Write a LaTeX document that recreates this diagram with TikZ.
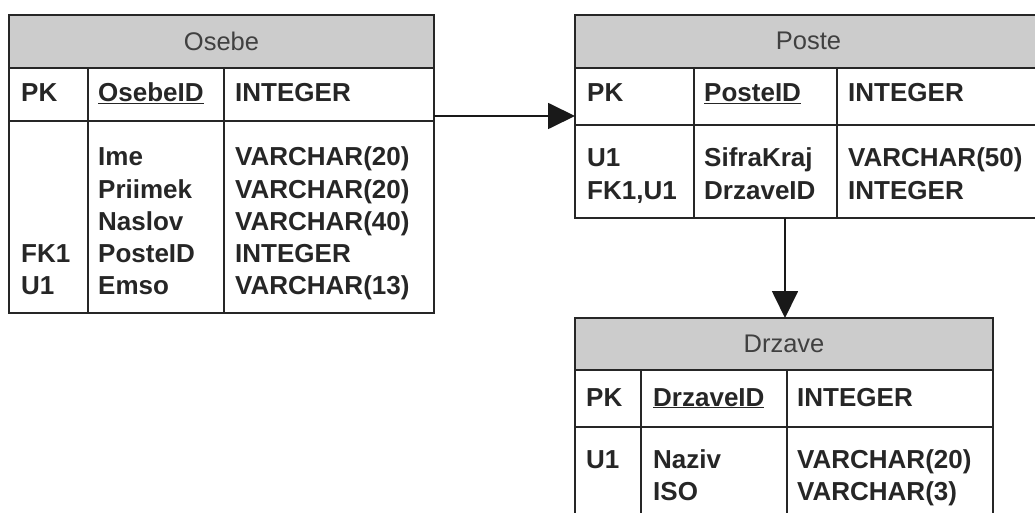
\documentclass[tikz,border=0pt]{standalone}
\usepackage{fontspec}
\setmainfont{Liberation Sans}
\usetikzlibrary{arrows.meta}

\begin{document}
\begin{tikzpicture}[x=1pt,y=-1pt,
  tbl/.style={draw=black!85, line width=1.8pt, inner sep=0pt, outer sep=0pt, anchor=north west},
  head/.style={fill=black!20},
  ttl/.style={font=\fontsize{25.5}{30}\selectfont, text=black!75},
  fld/.style={anchor=base west, inner sep=0pt, font=\fontsize{26}{30}\selectfont\bfseries, text=black!85},
  rel/.style={-{Triangle[length=27pt,width=26pt]}, line width=1.8pt, draw=black!90}]
\useasboundingbox (0,0) rectangle (1035,513);
\clip (0,0) rectangle (1035,513);
% Osebe
\fill[head] (9,15) rectangle (434,68);
\node[tbl, minimum width=425pt, minimum height=298pt] (osebe) at (9,15) {};
\draw[black!85, line width=1.8pt] (9,68) -- (434,68) (9,121) -- (434,121);
\draw[black!85, line width=1.8pt] (88,68) -- (88,313) (224,68) -- (224,313);
\node[ttl] (osebet) at (221.5,41) {Osebe};
\node[fld] (oa) at (21,102) {PK};
\node[fld] (ob) at (98,102) {\underline{OsebeID}};
\node[fld] (oc) at (235,102) {INTEGER};
\node[fld] (oda) at (21,262) {FK1};
\node[fld] (odb) at (21,294) {U1};
\node[fld] (oea) at (98,166) {Ime};
\node[fld] (oeb) at (98,198) {Priimek};
\node[fld] (oec) at (98,230) {Naslov};
\node[fld] (oed) at (98,262) {PosteID};
\node[fld] (oee) at (98,294) {Emso};
\node[fld] (ofa) at (235,166) {VARCHAR(20)};
\node[fld] (ofb) at (235,198) {VARCHAR(20)};
\node[fld] (ofc) at (235,230) {VARCHAR(40)};
\node[fld] (ofd) at (235,262) {INTEGER};
\node[fld] (ofe) at (235,294) {VARCHAR(13)};
%
%
% Poste
\fill[head] (575,15) rectangle (1042,68);
\node[tbl, minimum width=467pt, minimum height=203pt] (poste) at (575,15) {};
\draw[black!85, line width=1.8pt] (575,68) -- (1042,68) (575,125) -- (1042,125);
\draw[black!85, line width=1.8pt] (694,68) -- (694,218) (837,68) -- (837,218);
\node[ttl] (postet) at (808.5,41) {Poste};
\node[fld] (pa) at (587,102) {PK};
\node[fld] (pb) at (704,102) {\underline{PosteID}};
\node[fld] (pc) at (848,102) {INTEGER};
\node[fld] (pda) at (587,167) {U1};
\node[fld] (pdb) at (587,199) {FK1,U1};
\node[fld] (pea) at (704,167) {SifraKraj};
\node[fld] (peb) at (704,199) {DrzaveID};
\node[fld] (pfa) at (848,167) {VARCHAR(50)};
\node[fld] (pfb) at (848,199) {INTEGER};
%
%
% Drzave
\fill[head] (575,318) rectangle (993,370);
\node[tbl, minimum width=418pt, minimum height=222pt] (drzave) at (575,318) {};
\draw[black!85, line width=1.8pt] (575,370) -- (993,370) (575,427) -- (993,427);
\draw[black!85, line width=1.8pt] (641,370) -- (641,540) (787,370) -- (787,540);
\node[ttl] (drzavet) at (784,344) {Drzave};
\node[fld] (da) at (586,406) {PK};
\node[fld] (db) at (653,406) {\underline{DrzaveID}};
\node[fld] (dc) at (797,406) {INTEGER};
\node[fld] (dd) at (586,468) {U1};
\node[fld] (dea) at (653,468) {Naziv};
\node[fld] (deb) at (653,500) {ISO};
\node[fld] (dfa) at (797,468) {VARCHAR(20)};
\node[fld] (dfb) at (797,500) {VARCHAR(3)};
%
%
% relations
\coordinate (r1) at (434,116);
\coordinate (r2) at (785,218);
\draw[rel] (r1) -- (poste.west |- r1);
\draw[rel] (r2) -- (drzave.north -| r2);
\end{tikzpicture}
\end{document}
